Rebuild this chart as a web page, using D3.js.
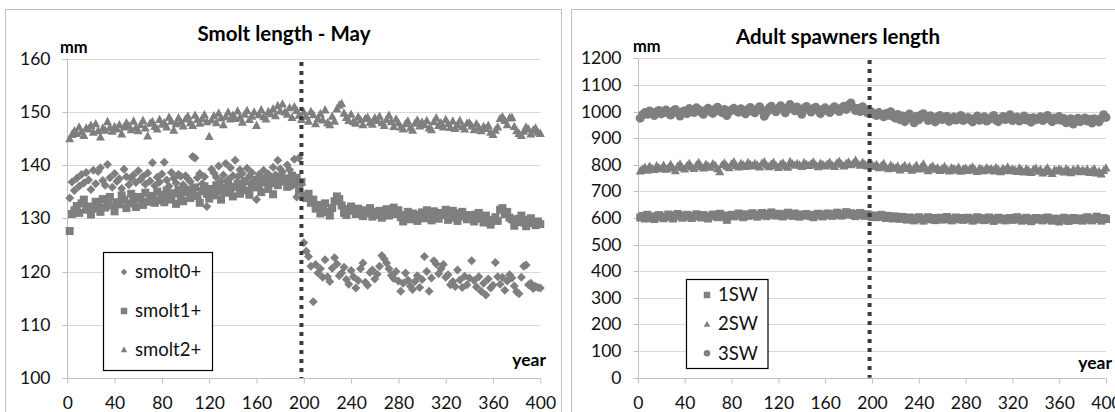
<!DOCTYPE html>
<html><head><meta charset="utf-8">
<script src="https://cdn.jsdelivr.net/npm/d3@7"></script>
<style>
html,body{margin:0;padding:0;background:#fff;}
svg{display:block;font-family:Lato,"Open Sans",sans-serif;}
</style></head>
<body><svg id="c" width="1115" height="412"></svg>
<script>
// ---------------- DATA ----------------
const yearStart = 2, yearStep = 2;           // points every 2 years, 2..400
const xTicks = [0,40,80,120,160,200,240,280,320,360,400];
const smoltYTicks = [100,110,120,130,140,150,160];
const adultYTicks = [0,100,200,300,400,500,600,700,800,900,1000,1100,1200];
const changeYear = 198;
const smoltNames = ["smolt0+","smolt1+","smolt2+"];
const adultNames = ["1SW","2SW","3SW"];

const smolt0 = [
133.8,136.8,135.2,137.5,136.0,138.2,136.6,138.6,137.2,135.4,
139.0,136.5,138.8,139.5,137.1,136.2,140.1,137.6,135.8,138.4,
136.9,137.4,135.6,139.2,137.8,136.3,137.5,138.1,136.7,138.9,
137.3,137.9,136.4,138.5,137.0,140.4,136.1,137.7,136.8,138.3,
140.5,137.2,136.0,138.6,137.5,136.6,138.2,137.9,136.3,138.0,
137.4,136.9,141.6,141.3,137.6,138.4,136.5,137.8,132.2,135.0,
139.2,138.5,137.7,139.8,136.9,138.1,140.3,137.3,139.5,138.0,
140.9,137.8,139.1,138.4,136.7,139.4,137.9,138.6,137.1,133.5,
138.2,137.5,139.0,136.8,138.3,137.6,139.6,138.1,140.9,139.3,
138.7,137.2,140.0,139.1,136.1,141.1,134.0,141.3,136.4,125.4,
123.8,122.8,121.0,114.3,121.3,119.7,120.5,118.9,122.2,119.0,
118.1,120.6,122.6,121.4,119.2,119.7,120.8,118.5,117.6,120.2,
119.0,116.9,118.3,120.5,121.6,118.0,117.4,119.8,120.3,118.6,
119.5,121.0,123.0,122.4,121.6,120.5,119.3,118.7,120.0,118.2,
116.3,117.8,119.7,118.4,117.3,116.6,118.1,119.2,117.0,118.5,
122.8,120.0,116.3,118.8,122.0,121.4,119.6,120.5,121.3,118.9,
119.4,117.5,118.1,117.2,120.3,118.4,117.0,119.1,117.5,118.8,
122.0,118.3,117.1,119.0,116.3,117.8,115.6,118.6,116.9,117.4,
121.7,119.0,117.6,118.9,116.5,118.2,119.4,118.8,117.3,116.2,
115.8,118.9,121.0,121.2,117.5,117.8,116.8,117.2,117.0,116.9];

const smolt1 = [
127.6,130.8,131.5,132.3,131.0,132.8,133.5,131.6,132.2,130.7,
131.8,133.1,132.5,131.2,133.6,132.0,133.2,134.0,132.4,131.3,
133.0,132.6,134.3,133.5,131.9,132.8,134.6,133.3,132.1,134.0,
133.7,132.5,134.8,133.1,134.2,133.6,132.9,135.0,133.4,134.4,
133.0,135.2,134.1,133.5,134.7,132.7,135.3,134.0,133.2,134.9,
135.4,133.8,134.5,135.8,134.2,132.9,135.1,136.0,134.6,133.7,
135.5,134.3,136.2,135.0,133.5,135.7,134.8,136.4,135.3,134.1,
135.9,136.5,134.6,135.6,137.0,135.2,134.4,136.3,135.8,137.2,
136.0,134.9,136.7,137.4,135.5,136.6,134.5,137.1,136.2,137.8,
136.9,137.5,135.9,137.3,138.0,136.4,137.6,135.2,136.8,134.2,
133.8,134.6,132.9,133.5,131.8,132.5,130.9,131.6,132.8,131.2,
130.5,131.9,133.2,134.1,133.6,132.4,131.0,130.6,131.7,132.2,
131.4,130.8,131.8,131.1,130.4,131.5,130.9,131.9,130.3,131.2,
130.6,131.4,130.1,131.0,131.7,130.5,131.3,132.0,130.8,131.5,
130.2,129.4,130.6,131.2,129.8,130.9,130.3,129.5,130.7,131.1,
130.0,131.5,130.4,129.6,131.3,130.2,129.9,131.0,130.6,131.6,
129.7,130.8,131.4,130.1,129.5,130.9,131.2,130.3,129.8,130.6,
130.0,129.4,130.7,131.0,129.9,129.2,130.5,129.7,128.8,129.6,
130.2,129.5,131.6,131.9,130.8,131.2,130.1,129.8,128.6,129.3,
129.9,130.5,129.2,128.5,129.7,130.0,129.1,128.7,129.4,128.9];

const smolt2 = [
145.0,145.8,146.5,146.0,147.2,146.3,145.6,147.0,146.8,147.5,
146.2,147.8,146.5,145.3,147.0,146.6,148.2,147.1,146.4,147.3,
146.8,147.6,145.9,147.2,148.0,147.4,146.7,148.3,147.1,146.5,
147.6,148.4,147.0,145.5,147.9,148.2,147.3,146.8,148.6,147.7,
148.0,147.2,149.0,148.3,146.6,147.8,148.9,148.1,147.4,148.7,
149.2,148.0,147.5,149.4,148.6,147.9,148.8,149.5,148.2,145.4,
148.5,149.3,148.0,149.8,148.9,147.6,149.1,150.0,148.7,149.4,
148.8,150.2,149.0,148.1,149.6,150.3,148.6,149.2,150.0,147.5,
149.5,150.4,149.1,148.7,150.1,149.7,150.6,149.3,151.2,150.2,
151.5,150.0,149.6,150.8,149.0,151.0,150.3,149.4,148.6,150.0,
149.2,148.3,150.1,149.5,147.8,148.8,149.7,148.5,150.4,148.0,
147.6,149.2,148.3,150.6,151.3,151.6,149.8,149.0,148.4,149.6,
148.2,147.9,149.1,148.5,147.6,148.8,149.0,148.1,147.7,148.9,
148.4,149.2,148.0,147.5,148.6,149.4,148.2,147.3,148.7,148.0,
147.2,146.8,147.8,148.3,147.0,146.6,147.9,148.5,147.4,148.1,
147.6,148.4,147.0,146.7,148.2,148.9,147.5,148.0,147.2,148.6,
147.8,147.1,148.3,146.9,147.6,148.4,147.3,146.8,147.9,148.0,
147.4,146.7,147.8,147.1,146.5,147.3,146.9,147.5,146.2,145.8,
146.6,147.2,148.8,149.1,148.4,147.6,148.9,149.0,147.3,146.5,
146.0,145.6,146.4,147.2,146.8,145.9,146.6,147.0,146.2,146.0];

const sw1 = [
602,608,598,612,605,600,596,607,611,603,
599,606,613,604,598,610,615,607,601,609,
612,605,600,608,614,606,602,611,604,598,
607,613,609,603,616,610,604,593,608,612,
606,611,617,609,603,614,608,612,618,610,
605,613,619,611,607,615,621,612,609,616,
610,606,614,620,613,608,617,611,605,613,
609,615,611,607,603,612,616,610,606,613,
617,611,608,614,620,612,609,616,622,613,
618,611,607,615,619,612,608,614,610,604,
609,603,607,612,605,600,608,603,598,606,
601,597,604,599,594,602,597,591,599,603,
596,590,598,603,595,600,592,597,601,594,
599,604,596,591,598,602,595,600,593,597,
601,596,590,598,603,594,599,592,597,602,
595,589,597,601,594,598,591,596,600,593,
598,603,595,590,597,601,593,588,596,600,
594,599,591,597,602,595,590,598,593,587,
596,601,594,589,597,600,592,598,595,590,
599,603,594,591,598,605,596,590,600,596];

const sw2 = [
778,785,792,781,795,788,783,797,790,786,
799,784,791,802,788,779,795,804,790,785,
798,806,793,787,800,809,795,789,803,797,
792,805,799,786,775,801,808,796,790,804,
812,798,793,806,801,795,809,803,797,806,
800,793,807,812,799,794,804,810,798,791,
803,808,797,792,813,805,799,806,801,795,
809,803,798,805,811,800,794,807,802,797,
804,810,799,795,808,814,803,797,806,811,
801,807,818,805,799,810,803,797,808,801,
795,802,790,797,806,792,786,799,793,788,
796,782,791,798,787,794,781,789,799,785,
792,804,786,779,791,796,784,790,780,787,
794,783,778,790,786,781,792,777,785,789,
780,787,793,782,776,788,784,779,790,783,
786,778,791,783,775,787,780,793,779,785,
782,776,789,781,774,786,779,772,784,788,
777,783,770,780,789,776,768,782,778,785,
780,774,786,779,771,783,777,787,775,781,
776,784,772,779,786,770,777,767,780,789];

const sw3 = [
975,988,996,990,1002,993,985,999,1004,991,
997,1006,994,987,1001,1008,995,983,999,1003,
992,1011,1004,996,1014,1007,998,990,1005,1012,
1000,993,1009,1016,1002,996,1008,985,999,1006,
1012,1003,997,1010,1005,991,1007,1015,1001,995,
1009,1018,1004,982,997,1013,1020,1006,999,1011,
1022,1008,995,1014,1026,1010,1003,1017,1005,990,
1012,1019,1007,998,1011,1016,1004,992,1008,1014,
1003,996,1010,1018,1006,1000,1013,1020,1008,1024,
1032,1015,1004,1011,1000,1018,1006,995,1002,997,
990,985,996,988,980,993,986,999,981,975,
989,970,983,962,978,991,974,958,982,969,
987,992,978,966,984,973,961,979,985,970,
976,982,963,971,979,968,974,985,966,972,
978,969,961,975,983,967,973,980,964,971,
977,985,968,962,974,981,970,976,988,966,
973,979,964,971,983,968,975,960,977,969,
972,980,966,974,985,971,962,976,969,981,
967,974,958,965,973,953,968,975,962,970,
976,964,971,957,973,968,961,975,988,978];

// ---------------- DRAWING ----------------
const svg = d3.select("#c");
const GRAY = "#7f7f7f";
const FONT = 'Lato,"Open Sans",sans-serif';

function markerPath(type, s){
  const h = s/2;
  if(type==="diamond") return `M0,${-h}L${h},0L0,${h}L${-h},0Z`;
  if(type==="square") return `M${-h},${-h}H${h}V${h}H${-h}Z`;
  if(type==="triangle") return `M0,${-h}L${h},${h*0.85}L${-h},${h*0.85}Z`;
  if(type==="circle") return `M${h},0A${h},${h} 0 1,1 ${-h},0A${h},${h} 0 1,1 ${h},0Z`;
}

function chart(cfg){
  const g = svg.append("g");
  g.append("rect").attr("x",cfg.frame[0]+0.5).attr("y",cfg.frame[1]+0.5)
    .attr("width",cfg.frame[2]-cfg.frame[0]).attr("height",cfg.frame[3]-cfg.frame[1])
    .attr("fill","#fff").attr("stroke","#bfbfbf").attr("stroke-width",1);

  const x = d3.scaleLinear().domain([0,400]).range([cfg.x0,cfg.x1]);
  const y = d3.scaleLinear().domain(cfg.ydom).range([cfg.yBot,cfg.yTop]);

  g.append("g").selectAll("line").data(cfg.yTicks.filter(v=>v!==cfg.ydom[0])).join("line")
    .attr("x1",cfg.x0).attr("x2",cfg.x1)
    .attr("y1",d=>Math.round(y(d))+0.5).attr("y2",d=>Math.round(y(d))+0.5)
    .attr("stroke","#d9d9d9").attr("stroke-width",1);

  const ya = g.append("g").attr("transform",`translate(${Math.round(cfg.x0)+0.5},0)`)
    .call(d3.axisLeft(y).tickValues(cfg.yTicks).tickSize(5).tickPadding(cfg.yPad).tickFormat(d3.format("d")));
  ya.select(".domain").attr("stroke","#bfbfbf").attr("d",`M0,${y(cfg.ydom[1])}V${y(cfg.ydom[0])}`);
  ya.selectAll(".tick line").attr("stroke","#bfbfbf");
  ya.selectAll(".tick").attr("transform",d=>`translate(0,${Math.round(y(d))+0.5})`);
  ya.selectAll("text").attr("font-family",FONT).attr("font-size",cfg.tickFs).attr("fill","#111");

  const xa = g.append("g").attr("transform",`translate(0,${Math.round(cfg.yBot)+0.5})`)
    .call(d3.axisBottom(x).tickValues(xTicks).tickSize(5).tickPadding(cfg.xPad).tickFormat(d3.format("d")));
  xa.select(".domain").attr("stroke","#bfbfbf").attr("d",`M${cfg.x0},0H${cfg.x1}`);
  xa.selectAll(".tick line").attr("stroke","#bfbfbf");
  xa.selectAll("text").attr("font-family",FONT).attr("font-size",cfg.tickFs).attr("fill","#111");

  cfg.series.forEach(s=>{
    g.append("g").selectAll("path").data(s.values).join("path")
      .attr("d",markerPath(s.shape,s.size))
      .attr("transform",(d,i)=>`translate(${x(yearStart+i*yearStep)},${y(d)})`)
      .attr("fill",GRAY);
  });

  g.append("line").attr("x1",x(changeYear)).attr("x2",x(changeYear))
    .attr("y1",cfg.dashTop).attr("y2",cfg.yBot)
    .attr("stroke","#3a3a3a").attr("stroke-width",4).attr("stroke-dasharray","4,5");

  g.append("text").attr("x",cfg.titleX).attr("y",cfg.titleY).attr("text-anchor","middle")
    .attr("font-family",FONT).attr("font-weight","bold").attr("font-size",cfg.titleFs).attr("fill","#000")
    .text(cfg.title);
  g.append("text").attr("x",cfg.mmX).attr("y",cfg.mmY)
    .attr("font-family",FONT).attr("font-weight","bold").attr("font-size",16.5).attr("fill","#000").text("mm");
  g.append("text").attr("x",cfg.yearX).attr("y",cfg.yearY).attr("text-anchor","end")
    .attr("font-family",FONT).attr("font-weight","bold").attr("font-size",17.5).attr("fill","#000").text("year");

  const L = cfg.legend;
  g.append("rect").attr("x",L.box[0]+0.5).attr("y",L.box[1]+0.5)
    .attr("width",L.box[2]-L.box[0]).attr("height",L.box[3]-L.box[1])
    .attr("fill","#fff").attr("stroke","#000").attr("stroke-width",1.2);
  cfg.series.forEach((s,i)=>{
    g.append("path").attr("d",markerPath(s.shape,L.msize))
      .attr("transform",`translate(${L.mx},${L.ys[i]})`).attr("fill",GRAY);
    g.append("text").attr("x",L.tx).attr("y",L.ys[i]).attr("dy","0.35em")
      .attr("font-family",FONT).attr("font-size",L.fs).attr("fill","#111").text(s.name);
  });
}

chart({
  frame:[5,9,561,420], x0:67.3, x1:540.3, yTop:58.5, yBot:378, ydom:[100,160],
  yTicks:smoltYTicks, tickFs:17.5, yPad:12, xPad:13, dashTop:62,
  title:"Smolt length - May", titleX:284, titleY:41, titleFs:20.5,
  mmX:60, mmY:53, yearX:546, yearY:366,
  series:[
    {name:smoltNames[0], values:smolt0, shape:"diamond", size:9},
    {name:smoltNames[1], values:smolt1, shape:"square", size:8},
    {name:smoltNames[2], values:smolt2, shape:"triangle", size:9}],
  legend:{box:[103,252,212,370], mx:124, tx:135, ys:[272,311,349.5], msize:6.5, fs:18.5}
});

chart({
  frame:[571,9,1130,420], x0:637.9, x1:1106, yTop:58.3, yBot:377.7, ydom:[0,1200],
  yTicks:adultYTicks, tickFs:17.5, yPad:12, xPad:13, dashTop:60,
  title:"Adult spawners length", titleX:838, titleY:44, titleFs:20.5,
  mmX:633, mmY:52, yearX:1112, yearY:369,
  series:[
    {name:adultNames[0], values:sw1, shape:"square", size:8},
    {name:adultNames[1], values:sw2, shape:"triangle", size:9},
    {name:adultNames[2], values:sw3, shape:"circle", size:9}],
  legend:{box:[686,279,767.5,368], mx:707, tx:718, ys:[295,324,353.3], msize:6.5, fs:18.5}
});
</script></body></html>
